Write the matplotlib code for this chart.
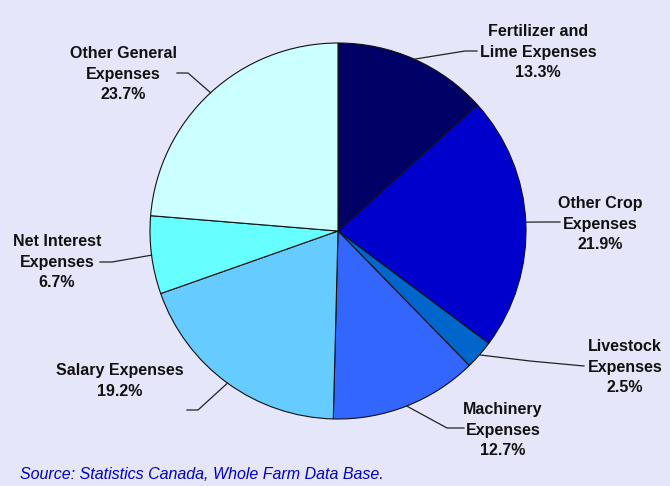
"""Farm expenses pie chart"""

import numpy as np
import matplotlib.pyplot as plt

labels = [
    "Fertilizer and\nLime Expenses",
    "Other Crop\nExpenses",
    "Livestock\nExpenses",
    "Machinery\nExpenses",
    "Salary Expenses",
    "Net Interest\nExpenses",
    "Other General\nExpenses",
]
shares = [13.3, 21.9, 2.5, 12.7, 19.2, 6.7, 23.7]
colors = ["#000066", "#0000CC", "#0066CC", "#3366FF", "#66CCFF", "#66FFFF", "#CCFFFF"]
source = "Source: Statistics Canada, Whole Farm Data Base."

# layout in pixels (y measured from top)
W, H = 670, 486
CX, CY, R = 338, 231, 188
# text centre, elbow, line end
label_pos = [
    ((538, 52), (465, 51), (477, 51)),
    ((600, 224), (545, 222), (560, 222)),
    ((625, 367), (530, 361), (584, 366)),
    ((503, 430), (447, 428), (464, 428)),
    ((120, 381), (198, 410), (187, 410)),
    ((57, 262), (112, 262), (100, 262)),
    ((123, 74), (188, 73), (177, 73)),
]


def main():
    plt.rcParams["font.family"] = ["Liberation Sans", "DejaVu Sans"]
    fig = plt.figure(figsize=(W / 100, H / 100), dpi=100)
    fig.patch.set_facecolor("#E6E6FA")
    ax = fig.add_axes([0, 0, 1, 1])

    # y axis is flipped, so start at -90 and go counterclockwise in data
    # coords -> top and clockwise on screen
    ax.pie(
        shares,
        colors=colors,
        startangle=-90,
        counterclock=True,
        radius=R,
        center=(CX, CY),
        frame=True,
        wedgeprops=dict(edgecolor="#111111", linewidth=0.8),
    )
    ax.set_xlim(0, W)
    ax.set_ylim(H, 0)
    ax.set_aspect("equal")
    ax.axis("off")

    total = sum(shares)
    start = 0.0
    for lab, val, (tpos, elbow, end) in zip(labels, shares, label_pos):
        mid = (start + val / 2) / total * 2 * np.pi
        start += val
        ex = CX + R * np.sin(mid)
        ey = CY - R * np.cos(mid)
        ax.plot([ex, elbow[0], end[0]], [ey, elbow[1], end[1]],
                color="#222222", linewidth=0.9)
        ax.text(tpos[0], tpos[1], f"{lab}\n{val:.1f}%", ha="center", va="center",
                fontsize=11.5, fontweight="bold", color="#111111", linespacing=1.45)

    fig.text(20 / W, 1 - 474 / H, source, ha="left", va="center",
             fontsize=11.5, style="italic", color="#0000CC")
    fig.savefig("out.png", dpi=100, facecolor=fig.get_facecolor())
    plt.close(fig)


if __name__ == "__main__":
    main()
